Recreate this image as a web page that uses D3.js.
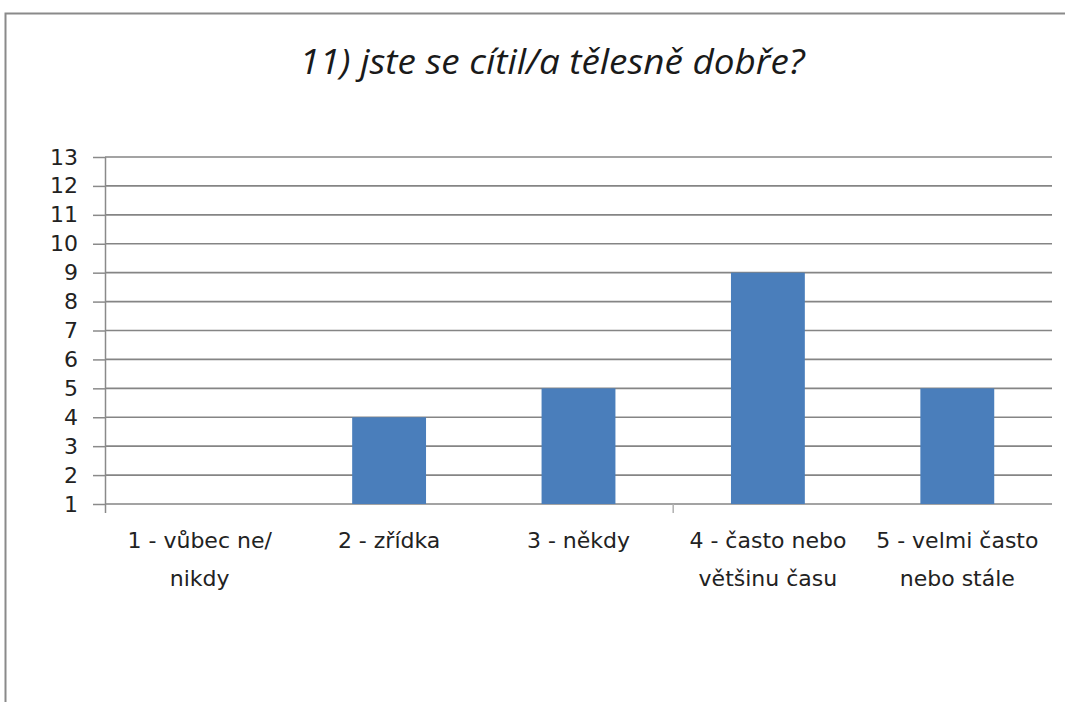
<!DOCTYPE html>
<html>
<head>
<meta charset="utf-8">
<script src="https://cdn.jsdelivr.net/npm/d3@7"></script>
<style>
  html, body { margin: 0; padding: 0; background: #fff; }
  svg { display: block; }
</style>
</head>
<body>
<svg id="chart" width="1065" height="702"></svg>
<script>
// Survey answers and counts
const categories = ["1", "2", "3", "4", "5"];
const categoryLabels = [
  ["1 - vůbec ne/", "nikdy"],
  ["2 - zřídka"],
  ["3 - někdy"],
  ["4 - často nebo", "většinu času"],
  ["5 - velmi často", "nebo stále"]
];
const counts = [1, 4, 5, 9, 5];
const yTicks = [1, 2, 3, 4, 5, 6, 7, 8, 9, 10, 11, 12, 13];
const title = "11) jste se cítil/a tělesně dobře?";

const svg = d3.select("#chart");
const W = 1065, H = 702;
const plot = { left: 105, right: 1052, top: 157, bottom: 504 };

// Frame of the chart area (top and left edges)
svg.append("path")
  .attr("d", `M5.5,${H} V13.5 H${W}`)
  .attr("fill", "none")
  .attr("stroke", "#8a8a8a")
  .attr("stroke-width", 2);

// Title
svg.append("text")
  .attr("x", 552)
  .attr("y", 74)
  .attr("text-anchor", "middle")
  .attr("font-family", "'Open Sans', 'Noto Sans', sans-serif")
  .attr("font-style", "italic")
  .attr("font-size", 34)
  .attr("fill", "#1a1a1a")
  .attr("textLength", 505)
  .attr("lengthAdjust", "spacingAndGlyphs")
  .text(title);

const y = d3.scaleLinear().domain([1, 13]).range([plot.bottom, plot.top]);
const x = d3.scaleBand().domain(categories)
  .range([plot.left, plot.right])
  .paddingInner(0.61).paddingOuter(0.305);
const xCat = d3.scaleBand().domain(categories).range([plot.left, plot.right]);

// Horizontal gridlines
svg.append("g")
  .selectAll("line")
  .data(yTicks)
  .join("line")
  .attr("x1", plot.left).attr("x2", plot.right)
  .attr("y1", d => y(d)).attr("y2", d => y(d))
  .attr("stroke", "#858585")
  .attr("stroke-width", 1.6);

// Bars
svg.append("g")
  .selectAll("rect")
  .data(counts)
  .join("rect")
  .attr("x", (d, i) => x(categories[i]))
  .attr("width", x.bandwidth())
  .attr("y", d => y(d))
  .attr("height", d => y(1) - y(d))
  .attr("fill", "#4a7ebb");

// Y axis
const yAxis = svg.append("g")
  .attr("transform", `translate(${plot.left},0)`)
  .call(d3.axisLeft(y).tickValues(yTicks).tickSize(12).tickPadding(15).tickFormat(d3.format("d")));
yAxis.select(".domain")
  .attr("d", `M0.5,${plot.top} V${plot.bottom + 9}`)
  .attr("stroke", "#8a8a8a").attr("stroke-width", 1.5);
yAxis.selectAll(".tick line").attr("stroke", "#8a8a8a").attr("stroke-width", 1.5);
yAxis.selectAll(".tick text")
  .attr("font-family", "'DejaVu Sans', sans-serif")
  .attr("font-size", 22)
  .attr("fill", "#222");

// Single category separator tick below the baseline (between 3 and 4)
svg.append("line")
  .attr("x1", xCat("4")).attr("x2", xCat("4"))
  .attr("y1", plot.bottom).attr("y2", plot.bottom + 9)
  .attr("stroke", "#b0b0b0").attr("stroke-width", 1.5);

// Category labels
const xAxis = svg.append("g")
  .attr("transform", `translate(0,${plot.bottom})`)
  .call(d3.axisBottom(xCat).tickSize(0).tickFormat(""));
xAxis.select(".domain").remove();
xAxis.selectAll(".tick").each(function(d, i) {
  const t = d3.select(this).append("text")
    .attr("text-anchor", "middle")
    .attr("font-family", "'DejaVu Sans', sans-serif")
    .attr("font-size", 22)
    .attr("fill", "#222");
  categoryLabels[i].forEach((line, j) => {
    t.append("tspan").attr("x", 0).attr("y", 44 + j * 38).text(line);
  });
});
</script>
</body>
</html>
